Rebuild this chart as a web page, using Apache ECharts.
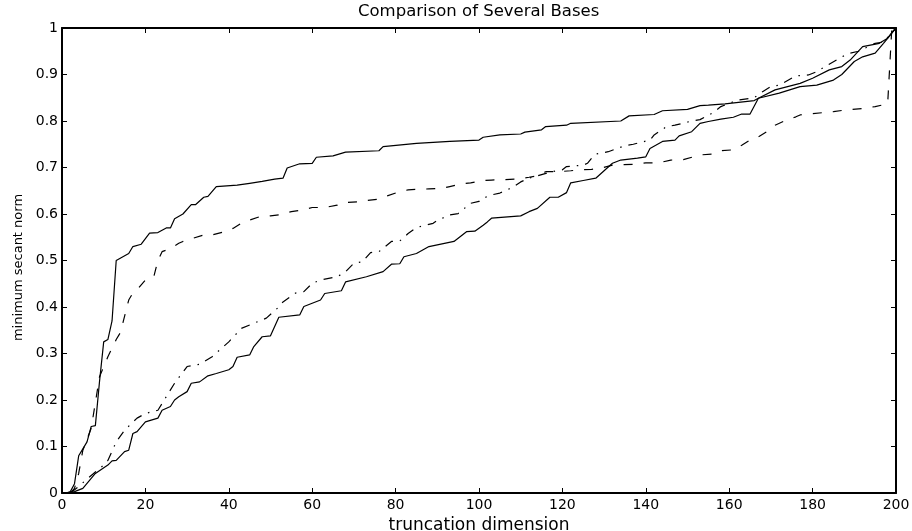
<!DOCTYPE html>
<html>
<head>
<meta charset="utf-8">
<script src="https://cdn.jsdelivr.net/npm/echarts@6/dist/echarts.min.js"></script>
<style>
html,body{margin:0;padding:0;background:#fff;}
#chart{width:912px;height:531px;}
</style>
</head>
<body>
<div id="chart"></div>
<script>
// ---- data ----
const titleText = "Comparison of Several Bases";
const xLabel = "truncation dimension";
const yLabel = "minimum secant norm";
const xTicks = [0, 20, 40, 60, 80, 100, 120, 140, 160, 180, 200];
const yTicks = [0, 0.1, 0.2, 0.3, 0.4, 0.5, 0.6, 0.7, 0.8, 0.9, 1];

// upper solid curve
const solidUpper = [[1,0],[2,0.003],[3,0.02],[4,0.08],[5,0.095],[6,0.11],[7,0.143],[8,0.145],[9,0.24],[10,0.325],[11,0.33],[12,0.37],[13,0.50],[16,0.515],[17,0.53],[19,0.535],[21,0.559],[23,0.56],[25,0.57],[26,0.57],[27,0.59],[29,0.60],[31,0.62],[32,0.62],[34,0.636],[35,0.638],[37,0.659],[42,0.662],[45,0.666],[48,0.67],[51,0.675],[53,0.677],[54,0.699],[57,0.708],[60,0.709],[61,0.722],[65,0.725],[68,0.733],[76,0.736],[77,0.745],[85,0.752],[93,0.756],[100,0.759],[101,0.765],[105,0.77],[110,0.772],[111,0.776],[115,0.781],[116,0.788],[121,0.791],[122,0.795],[134,0.80],[136,0.811],[142,0.814],[144,0.822],[150,0.825],[153,0.833],[155,0.834],[159,0.837],[166,0.844],[167,0.849],[171,0.867],[177,0.881],[180,0.892],[184,0.91],[187,0.917],[189,0.931],[192,0.96],[196,0.967],[198,0.978],[199,0.99],[200,1]];

// dashed curve
const dashed = [[2,0],[3,0.01],[4,0.042],[5,0.092],[7,0.139],[9,0.25],[11,0.293],[13,0.33],[14,0.345],[16,0.415],[17,0.43],[18,0.437],[20,0.458],[22,0.465],[23,0.50],[24,0.519],[26,0.526],[28,0.537],[29,0.541],[34,0.555],[36,0.555],[39,0.562],[41,0.569],[43,0.58],[45,0.587],[47,0.593],[50,0.596],[52,0.598],[55,0.605],[58,0.609],[60,0.614],[63,0.614],[66,0.619],[67,0.624],[71,0.626],[73,0.629],[76,0.632],[78,0.639],[81,0.648],[83,0.652],[85,0.653],[88,0.654],[91,0.655],[93,0.659],[96,0.665],[98,0.667],[101,0.672],[103,0.673],[109,0.675],[112,0.679],[114,0.682],[116,0.691],[119,0.691],[122,0.693],[124,0.695],[127,0.696],[129,0.698],[132,0.705],[137,0.707],[140,0.71],[143,0.71],[146,0.716],[149,0.717],[153,0.727],[156,0.729],[158,0.736],[161,0.738],[163,0.748],[165,0.759],[167,0.766],[169,0.777],[171,0.791],[173,0.799],[176,0.809],[177,0.813],[180,0.816],[185,0.82],[188,0.824],[192,0.827],[195,0.831],[198,0.837],[199,1],[200,1]];

// dash-dot curve
const dashDot = [[2,0],[4,0.014],[6,0.03],[8,0.045],[10,0.06],[11,0.07],[13,0.11],[15,0.135],[18,0.161],[20,0.171],[23,0.178],[25,0.207],[27,0.236],[30,0.272],[33,0.277],[36,0.293],[40,0.325],[43,0.354],[46,0.365],[49,0.376],[52,0.40],[53,0.411],[56,0.43],[58,0.433],[60,0.451],[62,0.458],[66,0.465],[68,0.476],[70,0.494],[72,0.497],[74,0.517],[76,0.519],[79,0.541],[81,0.542],[83,0.558],[85,0.571],[89,0.58],[90,0.586],[93,0.598],[95,0.601],[98,0.623],[100,0.627],[101,0.634],[103,0.641],[105,0.645],[108,0.657],[110,0.669],[112,0.677],[114,0.682],[117,0.69],[120,0.695],[121,0.702],[125,0.705],[126,0.709],[127,0.72],[128,0.729],[131,0.734],[135,0.747],[137,0.75],[141,0.759],[142,0.77],[145,0.788],[147,0.791],[151,0.80],[153,0.803],[156,0.817],[158,0.831],[162,0.845],[166,0.85],[168,0.863],[170,0.874],[172,0.877],[176,0.897],[179,0.899],[181,0.906],[183,0.917],[187,0.938],[189,0.946],[191,0.95],[195,0.967],[197,0.97],[199,0.99],[200,1]];

// lower solid curve
const solidLower = [[1,0],[3,0.003],[5,0.01],[8,0.042],[11,0.06],[12,0.069],[13,0.07],[15,0.089],[16,0.092],[17,0.128],[18,0.132],[20,0.153],[23,0.161],[24,0.178],[26,0.186],[27,0.20],[28,0.207],[30,0.218],[31,0.236],[33,0.239],[35,0.252],[37,0.257],[40,0.265],[41,0.272],[42,0.292],[45,0.297],[46,0.315],[48,0.336],[50,0.338],[52,0.378],[57,0.383],[58,0.401],[62,0.415],[63,0.429],[67,0.435],[68,0.454],[73,0.465],[77,0.476],[79,0.492],[81,0.493],[82,0.508],[85,0.515],[88,0.53],[94,0.541],[97,0.562],[99,0.563],[101,0.576],[102,0.583],[103,0.591],[110,0.596],[112,0.605],[114,0.612],[117,0.636],[119,0.636],[121,0.646],[122,0.667],[125,0.672],[128,0.677],[132,0.709],[134,0.716],[138,0.72],[140,0.723],[141,0.741],[144,0.756],[147,0.759],[148,0.768],[151,0.777],[153,0.795],[155,0.799],[158,0.804],[161,0.808],[163,0.815],[165,0.815],[167,0.849],[172,0.86],[177,0.874],[181,0.877],[185,0.888],[187,0.90],[190,0.928],[192,0.938],[195,0.946],[197,0.967],[200,1]];

// ---- chart ----
const FONT = "DejaVu Sans";
const chart = echarts.init(document.getElementById('chart'), null, {renderer: 'canvas'});

const axisLineStyle = {color: '#000', width: 2};
const tickStyle = {show: true, inside: true, length: 5, lineStyle: {color: '#000', width: 1}};

function lineSeries(data, type) {
  return {
    type: 'line', data: data, symbol: 'none', silent: true, animation: false,
    lineStyle: {color: '#000', width: 1.2, type: type}, clip: true
  };
}

chart.setOption({
  backgroundColor: '#fff',
  animation: false,
  title: {
    text: titleText, left: 358, top: 3, padding: 0,
    textStyle: {fontFamily: FONT, fontSize: 16.5, fontWeight: 'normal', color: '#000'}
  },
  grid: {left: 62, right: 16, top: 28, bottom: 38, containLabel: false, outerBoundsMode: 'none'},
  xAxis: [{
    type: 'value', min: xTicks[0], max: xTicks[xTicks.length - 1], interval: xTicks[1] - xTicks[0],
    position: 'bottom',
    name: xLabel, nameLocation: 'middle', nameGap: 20,
    nameTextStyle: {fontFamily: FONT, fontSize: 17, color: '#000'},
    axisLine: {show: true, onZero: false, lineStyle: axisLineStyle},
    axisTick: tickStyle,
    axisLabel: {fontFamily: FONT, fontSize: 14, color: '#000', margin: 5},
    splitLine: {show: false}
  }, {
    type: 'value', min: xTicks[0], max: xTicks[xTicks.length - 1], interval: xTicks[1] - xTicks[0],
    position: 'top',
    axisLine: {show: true, onZero: false, lineStyle: axisLineStyle},
    axisTick: tickStyle,
    axisLabel: {show: false},
    splitLine: {show: false}
  }],
  yAxis: [{
    type: 'value', min: yTicks[0], max: yTicks[yTicks.length - 1], interval: 0.1,
    position: 'left',
    name: yLabel, nameLocation: 'middle', nameGap: 37, nameRotate: 90,
    nameTextStyle: {fontFamily: FONT, fontSize: 13, color: '#000', padding: [0, 14, 0, 0]},
    axisLine: {show: true, onZero: false, lineStyle: axisLineStyle},
    axisTick: tickStyle,
    axisLabel: {fontFamily: FONT, fontSize: 14, color: '#000', margin: 4},
    splitLine: {show: false}
  }, {
    type: 'value', min: yTicks[0], max: yTicks[yTicks.length - 1], interval: 0.1,
    position: 'right',
    axisLine: {show: true, onZero: false, lineStyle: axisLineStyle},
    axisTick: tickStyle,
    axisLabel: {show: false},
    splitLine: {show: false}
  }],
  series: [
    lineSeries(solidUpper, 'solid'),
    lineSeries(dashed, [9, 11]),
    lineSeries(dashDot, [9, 7, 1.5, 7]),
    lineSeries(solidLower, 'solid')
  ]
});
</script>
</body>
</html>
